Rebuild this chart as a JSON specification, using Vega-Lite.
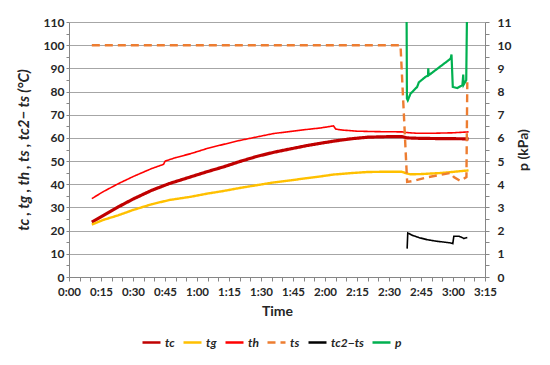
{
  "$schema": "https://vega.github.io/schema/vega-lite/v6.json",
  "width": 416,
  "height": 255,
  "autosize": "none",
  "padding": {"left": 69, "top": 22, "right": 65, "bottom": 88},
  "background": "white",
  "config": {
    "font": "Lato",
    "view": {"stroke": null},
    "axis": {
      "domainColor": "#868686",
      "tickColor": "#868686",
      "labelColor": "#262626",
      "titleColor": "#262626",
      "labelFontWeight": "bold",
      "titleFontWeight": "bold",
      "labelFontSize": 12,
      "titleFontSize": 13,
      "labelFlush": false,
      "labelOverlap": false,
      "tickSize": 4
    },
    "legend": {
      "orient": "none",
      "legendX": 72,
      "legendY": 310,
      "direction": "horizontal",
      "symbolType": "stroke",
      "symbolSize": 324,
      "symbolStrokeWidth": 2.5,
      "labelFontStyle": "italic",
      "labelFontWeight": "bold",
      "labelFontSize": 12,
      "labelColor": "#262626",
      "columnPadding": 3,
      "labelOffset": 3,
      "gridAlign": "none"
    }
  },
  "data": {
    "values": [
      {"s": "tc", "t": 10.7, "v": 23.7}, {"s": "tc", "t": 16, "v": 26.5}, {"s": "tc", "t": 23, "v": 30.2}, {"s": "tc", "t": 30, "v": 33.6},
      {"s": "tc", "t": 38.8, "v": 37.4}, {"s": "tc", "t": 47, "v": 40.3}, {"s": "tc", "t": 57, "v": 43.2}, {"s": "tc", "t": 65, "v": 45.5},
      {"s": "tc", "t": 72.4, "v": 47.5}, {"s": "tc", "t": 80, "v": 49.8}, {"s": "tc", "t": 88, "v": 52}, {"s": "tc", "t": 96, "v": 53.8},
      {"s": "tc", "t": 104, "v": 55.3}, {"s": "tc", "t": 111, "v": 56.6}, {"s": "tc", "t": 118, "v": 57.7}, {"s": "tc", "t": 124, "v": 58.6},
      {"s": "tc", "t": 132, "v": 59.6}, {"s": "tc", "t": 140, "v": 60.3}, {"s": "tc", "t": 148, "v": 60.5}, {"s": "tc", "t": 156, "v": 60.6},
      {"s": "tc", "t": 158.5, "v": 60}, {"s": "tc", "t": 165, "v": 59.8}, {"s": "tc", "t": 175, "v": 59.7}, {"s": "tc", "t": 187.3, "v": 59.6},

      {"s": "tg", "t": 10.7, "v": 22.6}, {"s": "tg", "t": 16, "v": 24.6}, {"s": "tg", "t": 23, "v": 26.6}, {"s": "tg", "t": 30, "v": 28.9},
      {"s": "tg", "t": 38.8, "v": 31.4}, {"s": "tg", "t": 47, "v": 33.2}, {"s": "tg", "t": 57, "v": 34.6}, {"s": "tg", "t": 65, "v": 36},
      {"s": "tg", "t": 72.4, "v": 37.1}, {"s": "tg", "t": 80, "v": 38.4}, {"s": "tg", "t": 88, "v": 39.6}, {"s": "tg", "t": 96, "v": 40.8},
      {"s": "tg", "t": 104, "v": 41.7}, {"s": "tg", "t": 111, "v": 42.6}, {"s": "tg", "t": 118, "v": 43.4}, {"s": "tg", "t": 124, "v": 44.2},
      {"s": "tg", "t": 132, "v": 44.8}, {"s": "tg", "t": 140, "v": 45.3}, {"s": "tg", "t": 148, "v": 45.4}, {"s": "tg", "t": 156, "v": 45.4},
      {"s": "tg", "t": 158.5, "v": 44.6}, {"s": "tg", "t": 160, "v": 44.3}, {"s": "tg", "t": 165, "v": 44.4}, {"s": "tg", "t": 175, "v": 44.9},
      {"s": "tg", "t": 187.3, "v": 46},

      {"s": "th", "t": 10.7, "v": 33.8}, {"s": "th", "t": 16, "v": 36.8}, {"s": "th", "t": 23, "v": 40.2}, {"s": "th", "t": 30, "v": 43.3},
      {"s": "th", "t": 38.8, "v": 46.8}, {"s": "th", "t": 44.3, "v": 48.6}, {"s": "th", "t": 45.1, "v": 50}, {"s": "th", "t": 50, "v": 51.5},
      {"s": "th", "t": 57, "v": 53.2}, {"s": "th", "t": 65, "v": 55.5}, {"s": "th", "t": 72.4, "v": 57.2}, {"s": "th", "t": 80, "v": 58.9},
      {"s": "th", "t": 88, "v": 60.4}, {"s": "th", "t": 96, "v": 61.9}, {"s": "th", "t": 104, "v": 62.8}, {"s": "th", "t": 111, "v": 63.6},
      {"s": "th", "t": 118, "v": 64.3}, {"s": "th", "t": 124, "v": 65.2}, {"s": "th", "t": 125, "v": 63.8}, {"s": "th", "t": 128, "v": 63.4},
      {"s": "th", "t": 135, "v": 62.9}, {"s": "th", "t": 145, "v": 62.7}, {"s": "th", "t": 156, "v": 62.6}, {"s": "th", "t": 158.5, "v": 62.3},
      {"s": "th", "t": 163, "v": 62}, {"s": "th", "t": 170, "v": 62}, {"s": "th", "t": 180, "v": 62.2}, {"s": "th", "t": 187.3, "v": 62.6},

      {"s": "ts", "t": 10.7, "v": 100}, {"s": "ts", "t": 155.4, "v": 100}, {"s": "ts", "t": 158.5, "v": 41}, {"s": "ts", "t": 161, "v": 41.4},
      {"s": "ts", "t": 168.4, "v": 43.1}, {"s": "ts", "t": 178.9, "v": 44.9}, {"s": "ts", "t": 180.4, "v": 43.1}, {"s": "ts", "t": 183.5, "v": 41.4},
      {"s": "ts", "t": 186.3, "v": 43.1}, {"s": "ts", "t": 186.7, "v": 84},

      {"s": "tc2−ts", "t": 158.5, "v": 12.25}, {"s": "tc2−ts", "t": 158.8, "v": 19}, {"s": "tc2−ts", "t": 160.9, "v": 18}, {"s": "tc2−ts", "t": 164, "v": 17},
      {"s": "tc2−ts", "t": 167.9, "v": 16.1}, {"s": "tc2−ts", "t": 171.8, "v": 15.5}, {"s": "tc2−ts", "t": 178.9, "v": 14.7}, {"s": "tc2−ts", "t": 179.9, "v": 14.4},
      {"s": "tc2−ts", "t": 180.4, "v": 17.6}, {"s": "tc2−ts", "t": 182.8, "v": 17.6}, {"s": "tc2−ts", "t": 184.4, "v": 17}, {"s": "tc2−ts", "t": 185.1, "v": 16.6},
      {"s": "tc2−ts", "t": 186.7, "v": 17},

      {"s": "p", "t": 158.2, "v": 12.5}, {"s": "p", "t": 158.4, "v": 7.7}, {"s": "p", "t": 158.8, "v": 7.62}, {"s": "p", "t": 160.1, "v": 7.91},
      {"s": "p", "t": 163.2, "v": 8.2}, {"s": "p", "t": 164, "v": 8.4}, {"s": "p", "t": 167.1, "v": 8.63}, {"s": "p", "t": 168.3, "v": 8.7},
      {"s": "p", "t": 168.4, "v": 9.0}, {"s": "p", "t": 168.6, "v": 8.7}, {"s": "p", "t": 178.9, "v": 9.42}, {"s": "p", "t": 179.3, "v": 9.6},
      {"s": "p", "t": 179.9, "v": 8.2}, {"s": "p", "t": 182, "v": 8.15}, {"s": "p", "t": 184.4, "v": 8.27}, {"s": "p", "t": 184.8, "v": 8.73},
      {"s": "p", "t": 185, "v": 8.3}, {"s": "p", "t": 186.2, "v": 8.49}, {"s": "p", "t": 186.7, "v": 12.5}
    ]
  },
  "encoding": {
    "x": {
      "field": "t",
      "type": "quantitative",
      "scale": {"domain": [0, 195], "nice": false, "zero": false},
      "axis": {
        "title": "Time",
        "values": [0,5,10,15,20,25,30,35,40,45,50,55,60,65,70,75,80,85,90,95,100,105,110,115,120,125,130,135,140,145,150,155,160,165,170,175,180,185,190,195],
        "labelExpr": "datum.value % 15 === 0 ? floor(datum.value / 60) + ':' + (datum.value % 60 < 10 ? '0' : '') + (datum.value % 60) : ''",
        "grid": false,
        "labelPadding": 5,
        "titlePadding": 7,
        "titleFontSize": 14,
        "labelFontSize": 11.5
      }
    }
  },
  "layer": [
    {
      "transform": [{"filter": "datum.s !== 'p'"}],
      "mark": {"type": "line", "clip": true, "strokeCap": "butt"},
      "encoding": {
        "y": {
          "field": "v",
          "type": "quantitative",
          "scale": {"domain": [0, 110], "nice": false},
          "axis": {
            "title": "tc , tg , th , ts , tc2− ts (°C)",
            "titleFontStyle": "italic",
            "titleFontSize": 15,
            "values": [0,5,10,15,20,25,30,35,40,45,50,55,60,65,70,75,80,85,90,95,100,105,110],
            "labelExpr": "datum.value % 10 === 0 ? datum.label : ''",
            "grid": true,
            "gridColor": "#A6A6A6",
            "gridOpacity": {"condition": {"test": "datum.value % 10 === 0", "value": 1}, "value": 0},
            "labelPadding": 2,
            "tickSize": 3,
            "titlePadding": 12
          }
        },
        "color": {
          "field": "s",
          "type": "nominal",
          "scale": {"domain": ["tc", "tg", "th", "ts", "tc2−ts", "p"], "range": ["#C00000", "#FFC000", "#FF0000", "#ED7D31", "#000000", "#00B050"]},
          "legend": {"title": null}
        },
        "strokeDash": {
          "field": "s",
          "type": "nominal",
          "scale": {"domain": ["tc", "tg", "th", "ts", "tc2−ts", "p"], "range": [[1, 0], [1, 0], [1, 0], [8, 5], [1, 0], [1, 0]]},
          "legend": {"title": null}
        },
        "strokeWidth": {
          "condition": [
            {"test": "datum.s === 'tc'", "value": 3.2},
            {"test": "datum.s === 'th'", "value": 1.6},
            {"test": "datum.s === 'tc2−ts'", "value": 1.6}
          ],
          "value": 2.4
        }
      }
    },
    {
      "transform": [{"filter": "datum.s === 'p'"}],
      "mark": {"type": "line", "clip": true, "strokeWidth": 2.2},
      "encoding": {
        "y": {
          "field": "v",
          "type": "quantitative",
          "scale": {"domain": [0, 11], "nice": false},
          "axis": {
            "orient": "right",
            "title": "p (kPa)",
            "titleAngle": 270,
            "titleFontSize": 14,
            "values": [0,0.5,1,1.5,2,2.5,3,3.5,4,4.5,5,5.5,6,6.5,7,7.5,8,8.5,9,9.5,10,10.5,11],
            "labelExpr": "datum.value % 1 === 0 ? format(datum.value, 'd') : ''",
            "grid": false,
            "tickSize": 4,
            "labelPadding": 8,
            "titlePadding": 20
          }
        },
        "color": {
          "field": "s",
          "type": "nominal",
          "scale": {"domain": ["tc", "tg", "th", "ts", "tc2−ts", "p"], "range": ["#C00000", "#FFC000", "#FF0000", "#ED7D31", "#000000", "#00B050"]},
          "legend": {"title": null}
        },
        "strokeDash": {
          "field": "s",
          "type": "nominal",
          "scale": {"domain": ["tc", "tg", "th", "ts", "tc2−ts", "p"], "range": [[1, 0], [1, 0], [1, 0], [8, 5], [1, 0], [1, 0]]},
          "legend": {"title": null}
        }
      }
    }
  ],
  "resolve": {"scale": {"y": "independent"}}
}
